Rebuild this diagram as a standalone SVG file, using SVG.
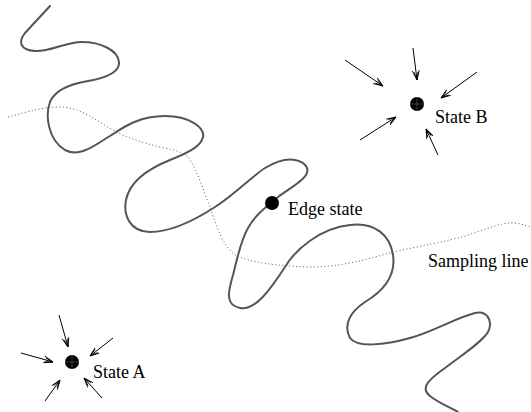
<svg xmlns="http://www.w3.org/2000/svg" width="531" height="412" viewBox="0 0 531 412">
<style>
.curve{fill:none;stroke:#555;stroke-width:2;stroke-linecap:round;stroke-linejoin:round}
.samp{fill:none;stroke:#555;stroke-width:1;stroke-dasharray:1 2.5}
.arr{stroke:#000;stroke-width:1;fill:none;marker-end:url(#ah)}
.dot{fill:#000}
.cross{stroke:#777;stroke-width:0.5}
.lbl{font-family:"Liberation Serif","Times New Roman",serif;font-size:18px;fill:#000}
</style>
<defs>
<marker id="ah" viewBox="0 0 10 8" refX="9.5" refY="4" markerWidth="10" markerHeight="8" markerUnits="userSpaceOnUse" orient="auto">
<path d="M0,0.5 L9.5,4 L0,7.5 M1.5,2 L9,4 L1.5,6" fill="none" stroke="#000" stroke-width="0.9"/>
</marker>
</defs>
<rect width="531" height="412" fill="#fff"/>
<g id="connectors">
<path id="trajectory" class="curve" d="M50,6 L25,33 C18,42 20,50 35,51 C50,52 65,42 82,42 C100,42 118,50 119,62 C120,73 105,78 88,81 C70,84 55,90 50,102 C45,115 48,140 65,150 C80,158 95,145 110,136 C125,126 140,116 165,116 C190,116 205,128 203,137 C201,146 190,152 170,160 C150,168 130,180 126,200 C123,215 130,232 150,232 C170,232 195,220 215,207 C235,194 250,178 265,168 C275,162 285,158 295,160 C305,162 310,168 306,175 C302,182 290,188 278,197 C265,208 255,215 248,228 C240,242 237,260 233,275 C228,292 225,305 240,308 C255,311 270,290 285,267 C295,250 320,228 350,225 C375,222 390,235 393,255 C396,275 385,290 365,302 C350,312 343,325 350,338 C357,348 385,345 410,338 C435,331 455,318 475,313 C488,310 493,322 488,332 C482,342 462,355 445,368 C428,380 420,388 430,396 C440,404 452,408 458,412"/>
<path id="sampling" class="samp" d="M8,117 C25,113 40,107 60,107 C80,107 95,120 113,130 C125,137 140,142 160,147 C175,150 185,152 190,160 C198,172 203,190 210,207 C215,222 222,245 235,255 C248,262 275,266 310,267 C340,267 365,260 393,252 C420,246 445,242 465,236 C485,230 500,222 515,223 C522,224 527,226 531,227"/>
<line class="arr" x1="345" y1="60" x2="383" y2="86"/>
<line class="arr" x1="413" y1="48" x2="417" y2="80"/>
<line class="arr" x1="477" y1="72" x2="441" y2="98"/>
<line class="arr" x1="360" y1="140" x2="396" y2="117"/>
<line class="arr" x1="438" y1="155" x2="426" y2="129"/>
<line class="arr" x1="59" y1="315" x2="68" y2="347"/>
<line class="arr" x1="21" y1="353" x2="53" y2="362"/>
<line class="arr" x1="113" y1="338" x2="90" y2="356"/>
<line class="arr" x1="45" y1="401" x2="60" y2="380"/>
<line class="arr" x1="102" y1="398" x2="84" y2="378"/>
</g>
<g id="stateB">
<circle class="dot" cx="417" cy="104" r="7"/>
<line class="cross" x1="410" y1="104" x2="424" y2="104"/>
<line class="cross" x1="417" y1="97" x2="417" y2="111"/>
<text class="lbl" x="435" y="123">State B</text>
</g>
<g id="stateA">
<circle class="dot" cx="72" cy="362" r="7"/>
<line class="cross" x1="65" y1="362" x2="79" y2="362"/>
<line class="cross" x1="72" y1="355" x2="72" y2="369"/>
<text class="lbl" x="93" y="378">State A</text>
</g>
<g id="edge">
<circle class="dot" cx="272" cy="203" r="7"/>
<text class="lbl" x="288" y="215">Edge state</text>
</g>
<g id="samplingLabel">
<text class="lbl" x="428" y="267">Sampling line</text>
</g>
</svg>
